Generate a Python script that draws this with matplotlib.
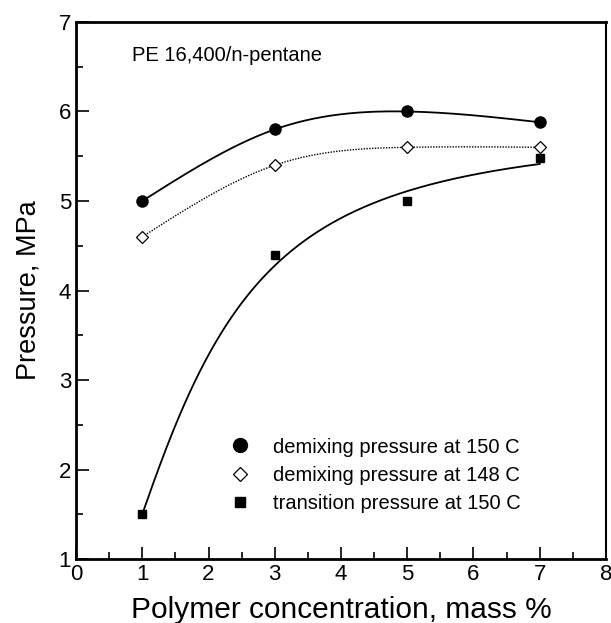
import numpy as np
import matplotlib.pyplot as plt
from matplotlib.lines import Line2D
from matplotlib.ticker import MultipleLocator

plt.rcParams['font.family'] = ['Liberation Sans', 'DejaVu Sans']

# polymer concentration, mass %
conc = [1, 3, 5, 7]
# demixing pressure at 150 C, MPa
demix_150 = [5.0, 5.8, 6.0, 5.88]
# demixing pressure at 148 C, MPa
demix_148 = [4.6, 5.4, 5.6, 5.6]
# transition pressure at 150 C, MPa
trans_150 = [1.5, 4.4, 5.0, 5.48]
# fit weights for the transition points
trans_weights = [10.0, 0.4, 1.0, 1.0]

labels = ['demixing pressure at 150 C',
          'demixing pressure at 148 C',
          'transition pressure at 150 C']


def natural_spline(x, y, n=300):
    """Natural cubic spline through the points."""
    x = np.asarray(x, float)
    y = np.asarray(y, float)
    m = len(x)
    h = np.diff(x)
    A = np.zeros((m, m))
    r = np.zeros(m)
    A[0, 0] = A[-1, -1] = 1.0
    for i in range(1, m - 1):
        A[i, i - 1] = h[i - 1]
        A[i, i] = 2 * (h[i - 1] + h[i])
        A[i, i + 1] = h[i]
        r[i] = 6 * ((y[i + 1] - y[i]) / h[i] - (y[i] - y[i - 1]) / h[i - 1])
    M = np.linalg.solve(A, r)

    xs = np.linspace(x[0], x[-1], n)
    idx = np.clip(np.searchsorted(x, xs) - 1, 0, m - 2)
    x0, x1 = x[idx], x[idx + 1]
    hh = x1 - x0
    a, b = xs - x0, x1 - xs
    ys = (b * y[idx] + a * y[idx + 1]) / hh \
        - a * b / 6 * ((1 + a / hh) * M[idx + 1] + (1 + b / hh) * M[idx])
    return xs, ys


def hill_fit(x, y, w, n=300):
    """Weighted least-squares fit of y = ymax * x^p / (k^p + x^p)."""
    x = np.asarray(x, float)
    y = np.asarray(y, float)
    w = np.asarray(w, float)
    best = None
    for p in np.linspace(1.0, 3.0, 201):
        for k in np.linspace(0.5, 4.0, 351):
            phi = x ** p / (k ** p + x ** p)
            ymax = (w * phi) @ y / ((w * phi) @ phi)
            err = np.sum(w * (ymax * phi - y) ** 2)
            if best is None or err < best[0]:
                best = (err, p, k, ymax)
    _, p, k, ymax = best
    xs = np.linspace(x.min(), x.max(), n)
    return xs, ymax * xs ** p / (k ** p + xs ** p)


fig = plt.figure(figsize=(6.11, 6.23), dpi=100)
ax = fig.add_axes([0.1244, 0.1027, 0.8674, 0.862])

xs, ys = natural_spline(conc, demix_150)
ax.plot(xs, ys, color='black', lw=1.3)
xs, ys = natural_spline(conc, demix_148)
ax.plot(xs, ys, color='black', lw=1.0, ls=(0, (1, 1)))
xs, ys = hill_fit(conc, trans_150, trans_weights)
ax.plot(xs, ys, color='black', lw=1.3)

ax.plot(conc, demix_150, 'o', color='black', ms=8, zorder=3)
ax.plot(conc, demix_148, 'D', mfc='white', mec='black', mew=0.9, ms=6, zorder=3)
ax.plot(conc, trans_150, 's', color='black', ms=6, zorder=3)

ax.set_xlim(0, 8)
ax.set_ylim(1, 7)
ax.xaxis.set_major_locator(MultipleLocator(1))
ax.xaxis.set_minor_locator(MultipleLocator(0.5))
ax.yaxis.set_major_locator(MultipleLocator(1))
ax.yaxis.set_minor_locator(MultipleLocator(0.5))
ax.tick_params(which='both', direction='in', top=False, right=False,
               labelsize=16, width=1.2)
ax.tick_params(which='major', length=9)
ax.tick_params(which='minor', length=5)
for side in ['left', 'bottom', 'top']:
    ax.spines[side].set_linewidth(2.0)
ax.spines['right'].set_linewidth(1.5)

ax.set_xlabel('Polymer concentration, mass %', fontsize=21.5, labelpad=8)
ax.set_ylabel('Pressure, MPa', fontsize=19.5, labelpad=12)

ax.text(0.85, 6.63, 'PE 16,400/n-pentane', fontsize=14.5, va='center', ha='left')

handles = [
    Line2D([], [], marker='o', color='black', ls='none', ms=10),
    Line2D([], [], marker='D', mfc='white', mec='black', mew=0.9, ls='none', ms=7),
    Line2D([], [], marker='s', color='black', ls='none', ms=7),
]
ax.legend(handles, labels, loc='upper left', bbox_to_anchor=(0.262, 0.245),
          frameon=False, fontsize=14.5, handletextpad=0.9, labelspacing=0.45,
          borderpad=0, handlelength=1.5)

fig.savefig('out.png', dpi=100)
